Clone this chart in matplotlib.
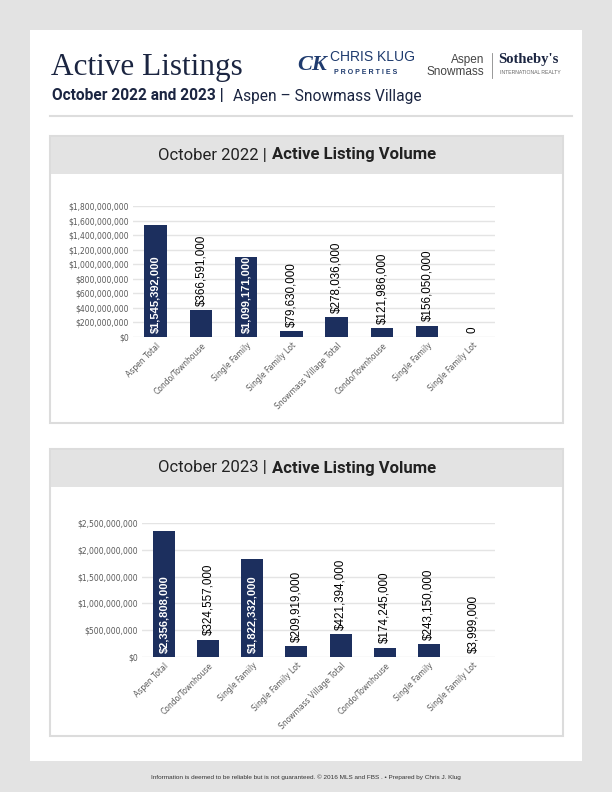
import matplotlib
matplotlib.use("Agg")
import matplotlib.pyplot as plt
from matplotlib.patches import Rectangle
from matplotlib.lines import Line2D
from matplotlib.ticker import FuncFormatter

# data
categories = ["Aspen Total", "Condo/Townhouse", "Single Family", "Single Family Lot",
              "Snowmass Village Total", "Condo/Townhouse", "Single Family", "Single Family Lot"]
vol_2022 = [1545392000, 366591000, 1099171000, 79630000, 278036000, 121986000, 156050000, 0]
vol_2023 = [2356808000, 324557000, 1822332000, 209919000, 421394000, 174245000, 243150000, 3999000]
ticks_2022 = [0, 200e6, 400e6, 600e6, 800e6, 1000e6, 1200e6, 1400e6, 1600e6, 1800e6]
ticks_2023 = [0, 500e6, 1000e6, 1500e6, 2000e6, 2500e6]

W, H = 612, 792
NAVY = "#1c2f5e"
DARK = "#1b2541"
GRAY_BG = "#e3e3e3"
TICK_C = "#5a5a5a"


def fx(px):
    return px / W


def fy(py):
    return 1 - py / H


def rect(x0, y0, x1, y1, **kw):
    r = Rectangle((fx(x0), fy(y1)), fx(x1) - fx(x0), (y1 - y0) / H,
                  transform=fig.transFigure, zorder=-5, **kw)
    fig.add_artist(r)


def money(v, pos=None):
    return "${:,.0f}".format(v)


def draw_panel(top, head_bot, bottom, year):
    rect(50, top, 563, bottom, facecolor="white", edgecolor="#dcdcdc", lw=1.5)
    rect(51, top + 1, 562, head_bot, facecolor=GRAY_BG, edgecolor="none")
    ym = fy((top + head_bot) / 2)
    fig.text(fx(271), ym, "October %d | " % year, ha="right", va="center",
             fontsize=12, color="#222222", family="Roboto")
    fig.text(fx(272), ym, "Active Listing Volume", ha="left", va="center",
             fontsize=12, color="#222222", family="Roboto", weight="bold")


def draw_chart(left, right, zero_y, top_y, values, ticks):
    ax = fig.add_axes([fx(left), fy(zero_y), fx(right) - fx(left), (zero_y - top_y) / H])
    ax.patch.set_alpha(0)
    xs = list(range(len(values)))
    ax.bar(xs, values, width=0.5, color=NAVY, zorder=3)
    ax.set_xlim(-0.5, len(values) - 0.5)
    ax.set_ylim(0, ticks[-1])
    ax.set_yticks(ticks)
    ax.yaxis.set_major_formatter(FuncFormatter(money))
    ax.set_xticks(xs)
    ax.set_xticklabels(categories, rotation=45, ha="right", rotation_mode="anchor")
    ax.tick_params(axis="both", length=0, labelsize=5.5, colors=TICK_C, pad=3)
    ax.grid(axis="y", color="#e4e4e4", lw=1, zorder=0)
    for s in ax.spines.values():
        s.set_visible(False)
    big = max(values)
    for x, v in zip(xs, values):
        label = "0" if v == 0 else money(v)
        if v > 0.45 * big:
            ax.annotate(label, (x, 0), xytext=(0, 3), textcoords="offset points", rotation=90,
                        ha="center", va="bottom", color="white", weight="bold", fontsize=8.0,
                        family="Liberation Sans", zorder=4)
        else:
            ax.annotate(label, (x, v), xytext=(0, 3), textcoords="offset points", rotation=90,
                        ha="center", va="bottom", color="black", fontsize=8.4,
                        family="Liberation Sans", zorder=4)
    return ax


fig = plt.figure(figsize=(W / 100, H / 100), dpi=100)
fig.patch.set_facecolor(GRAY_BG)

# white page
rect(30, 30, 582, 761, facecolor="white", edgecolor="none")

# header
fig.text(fx(51), fy(67), "Active Listings", fontsize=22.5, family="Liberation Serif",
         color=DARK, va="center", ha="left")
fig.text(fx(52), fy(96), "October 2022 and 2023 |", fontsize=11.2, family="Roboto",
         weight="bold", color=DARK, va="center", ha="left")
fig.text(fx(233), fy(96), "Aspen \u2013 Snowmass Village", fontsize=11.2, family="Roboto",
         color=DARK, va="center", ha="left")
fig.add_artist(Line2D([fx(50), fx(572)], [fy(116), fy(116)], color="#dddddd", lw=1.5,
                      transform=fig.transFigure))

# logos as text
fig.text(fx(297), fy(65), "CK", fontsize=16, weight="bold", family="Liberation Serif",
         color="#1f3b6e", va="center", ha="left", style="italic")
fig.text(fx(330), fy(57), "CHRIS KLUG", fontsize=10, family="Liberation Sans",
         color="#1f3b6e", va="center", ha="left")
fig.text(fx(334), fy(72), "P R O P E R T I E S", fontsize=5, family="Liberation Sans",
         weight="bold", color="#1f3b6e", va="center", ha="left")
fig.text(fx(484), fy(60), "Aspen", fontsize=8.5, family="Liberation Sans",
         color="#444444", va="center", ha="right")
fig.text(fx(484), fy(72), "Snowmass", fontsize=8.5, family="Liberation Sans",
         color="#444444", va="center", ha="right")
fig.add_artist(Line2D([fx(492), fx(492)], [fy(53), fy(78)], color="#888888", lw=0.6,
                      transform=fig.transFigure))
fig.text(fx(498), fy(60), "Sotheby's", fontsize=10.5, family="Liberation Serif", weight="bold",
         color="#1b2541", va="center", ha="left")
fig.text(fx(500), fy(73), "INTERNATIONAL REALTY", fontsize=3.7, family="Liberation Sans",
         color="#666666", va="center", ha="left")

# panels
draw_panel(136, 174, 423, 2022)
draw_chart(133, 495, 337, 206, vol_2022, ticks_2022)
draw_panel(449, 487, 736, 2023)
draw_chart(142, 495, 657, 523, vol_2023, ticks_2023)

# footer
fig.text(0.5, fy(777), "Information is deemed to be reliable but is not guaranteed. \u00a9 2016 MLS and FBS . "
         "\u2022 Prepared by Chris J. Klug", fontsize=4.6, family="Liberation Sans",
         color="#333333", ha="center", va="center")

fig.savefig("out.png", dpi=100, facecolor=fig.get_facecolor())
